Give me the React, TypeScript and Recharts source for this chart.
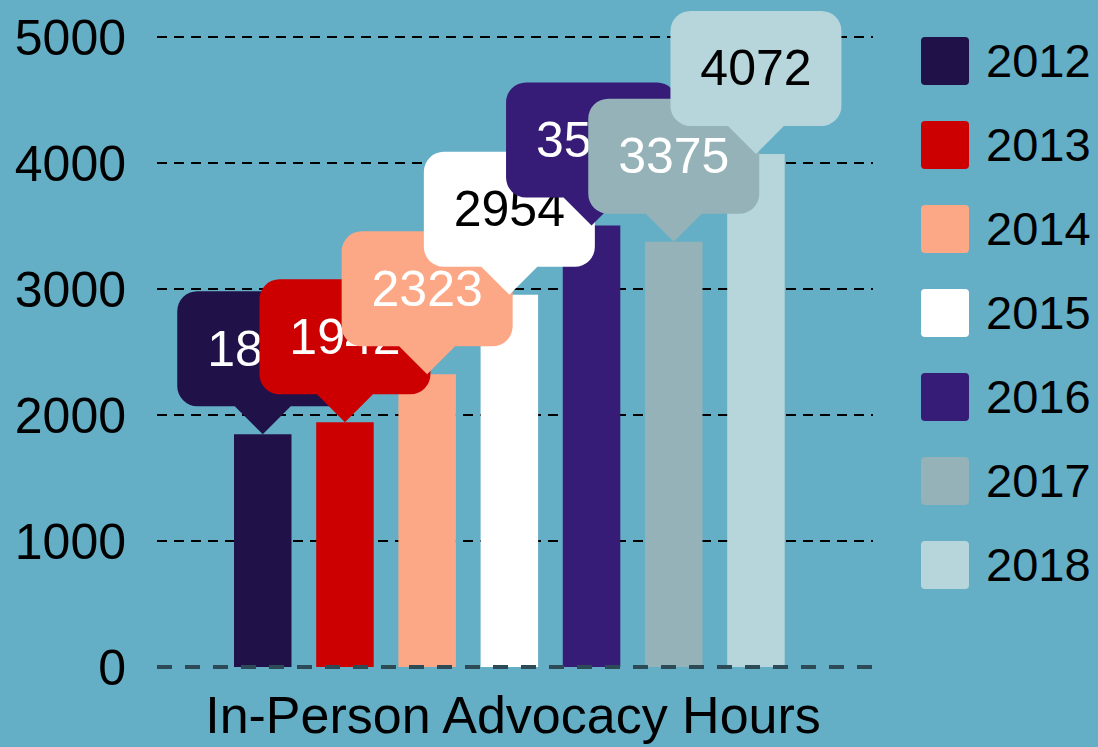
import React from 'react';
import { BarChart, Bar, XAxis, YAxis, CartesianGrid, ReferenceLine, LabelList } from 'recharts';

const categories = ['In-Person Advocacy Hours'];
const years = ['2012', '2013', '2014', '2015', '2016', '2017', '2018'];
// 2012 and 2016 labels are hidden behind other bubbles
const hours = [1848, 1942, 2323, 2954, 3504, 3375, 4072];
const yTicks = [0, 1000, 2000, 3000, 4000, 5000];

const colors = ['#201249', '#cc0000', '#fca886', '#ffffff', '#361c76', '#94b2b7', '#b7d6dc'];
const labelColors = ['#ffffff', '#ffffff', '#ffffff', '#000000', '#ffffff', '#ffffff', '#000000'];

const data = categories.map((name) => {
  const row: Record<string, string | number> = { name };
  years.forEach((y, i) => {
    row[y] = hours[i];
  });
  return row;
});

const FONT = '"Liberation Sans", Arial, sans-serif';
const W = 1098;
const H = 747;
const margin = { top: 37, right: 225, bottom: 0, left: 0 };

function Bubble(props: any) {
  const { x, y, width, value, fill, textFill } = props;
  const cx = Number(x) + Number(width) / 2;
  const tip = Number(y);
  const bottom = tip - 28;
  const top = bottom - 115;
  const w = 171;
  const r = 20;
  const l = cx - w / 2;
  const rt = cx + w / 2;
  const d = [
    `M${l + r},${top}`,
    `H${rt - r}`,
    `A${r},${r} 0 0 1 ${rt},${top + r}`,
    `V${bottom - r}`,
    `A${r},${r} 0 0 1 ${rt - r},${bottom}`,
    `H${cx + 28}`,
    `L${cx},${tip}`,
    `L${cx - 28},${bottom}`,
    `H${l + r}`,
    `A${r},${r} 0 0 1 ${l},${bottom - r}`,
    `V${top + r}`,
    `A${r},${r} 0 0 1 ${l + r},${top}`,
    'Z',
  ].join(' ');
  return (
    <g>
      <path d={d} fill={fill} />
      <text
        x={cx}
        y={(top + bottom) / 2}
        textAnchor="middle"
        dominantBaseline="central"
        fontSize={50}
        fontFamily={FONT}
        fill={textFill}
      >
        {value}
      </text>
    </g>
  );
}

function CategoryTick(props: any) {
  const { x, y, payload } = props;
  return (
    <text x={x + 4} y={y} dy={66} textAnchor="middle" fontSize={52} fontFamily={FONT} fill="#000">
      {payload.value}
    </text>
  );
}

export default function App() {
  return (
    <div
      style={{
        position: 'absolute',
        left: 0,
        top: 0,
        width: W,
        height: H,
        background: '#64aec6',
        fontFamily: FONT,
        overflow: 'hidden',
      }}
    >
      <div style={{ position: 'absolute', left: 0, top: 0 }}>
        <BarChart width={W} height={H} data={data} margin={margin} barSize={57.5} barGap={24.7}>
          <CartesianGrid
            vertical={false}
            horizontalValues={[1000, 2000, 3000, 4000, 5000]}
            stroke="#000"
            strokeWidth={2}
            strokeDasharray="10 7"
          />
          <XAxis
            dataKey="name"
            height={80}
            axisLine={false}
            tickLine={false}
            tickSize={0}
            tickMargin={0}
            padding={{ left: 0, right: 12 }}
            tick={<CategoryTick />}
          />
          <YAxis
            width={157}
            domain={[0, 5000]}
            ticks={yTicks}
            axisLine={false}
            tickLine={false}
            tickSize={0}
            tickMargin={31}
            tick={{ fill: '#000', fontSize: 50, fontFamily: FONT }}
          />
          {years.map((y, i) => (
            <Bar key={y} dataKey={y} fill={colors[i]} isAnimationActive={false} />
          ))}
          <ReferenceLine y={0} stroke="#2d4b56" strokeWidth={4} strokeDasharray="15 13" />
        </BarChart>
      </div>

      {/* second pass: callout bubbles drawn above every bar */}
      <div style={{ position: 'absolute', left: 0, top: 0, pointerEvents: 'none' }}>
        <BarChart width={W} height={H} data={data} margin={margin} barSize={57.5} barGap={24.7}>
          <XAxis
            dataKey="name"
            height={80}
            axisLine={false}
            tickLine={false}
            tick={false}
            padding={{ left: 0, right: 12 }}
          />
          <YAxis width={157} domain={[0, 5000]} ticks={yTicks} axisLine={false} tickLine={false} tick={false} />
          {years.map((y, i) => (
            <Bar key={y} dataKey={y} fill="transparent" isAnimationActive={false}>
              <LabelList
                dataKey={y}
                content={(p: any) => <Bubble {...p} fill={colors[i]} textFill={labelColors[i]} />}
              />
            </Bar>
          ))}
        </BarChart>
      </div>

      <div style={{ position: 'absolute', left: 921, top: 37 }}>
        {years.map((y, i) => (
          <div key={y} style={{ display: 'flex', alignItems: 'center', height: 48, marginBottom: 36 }}>
            <div style={{ width: 48, height: 48, borderRadius: 4, background: colors[i] }} />
            <span style={{ marginLeft: 17, fontSize: 47, lineHeight: '48px', color: '#000' }}>{y}</span>
          </div>
        ))}
      </div>
    </div>
  );
}
